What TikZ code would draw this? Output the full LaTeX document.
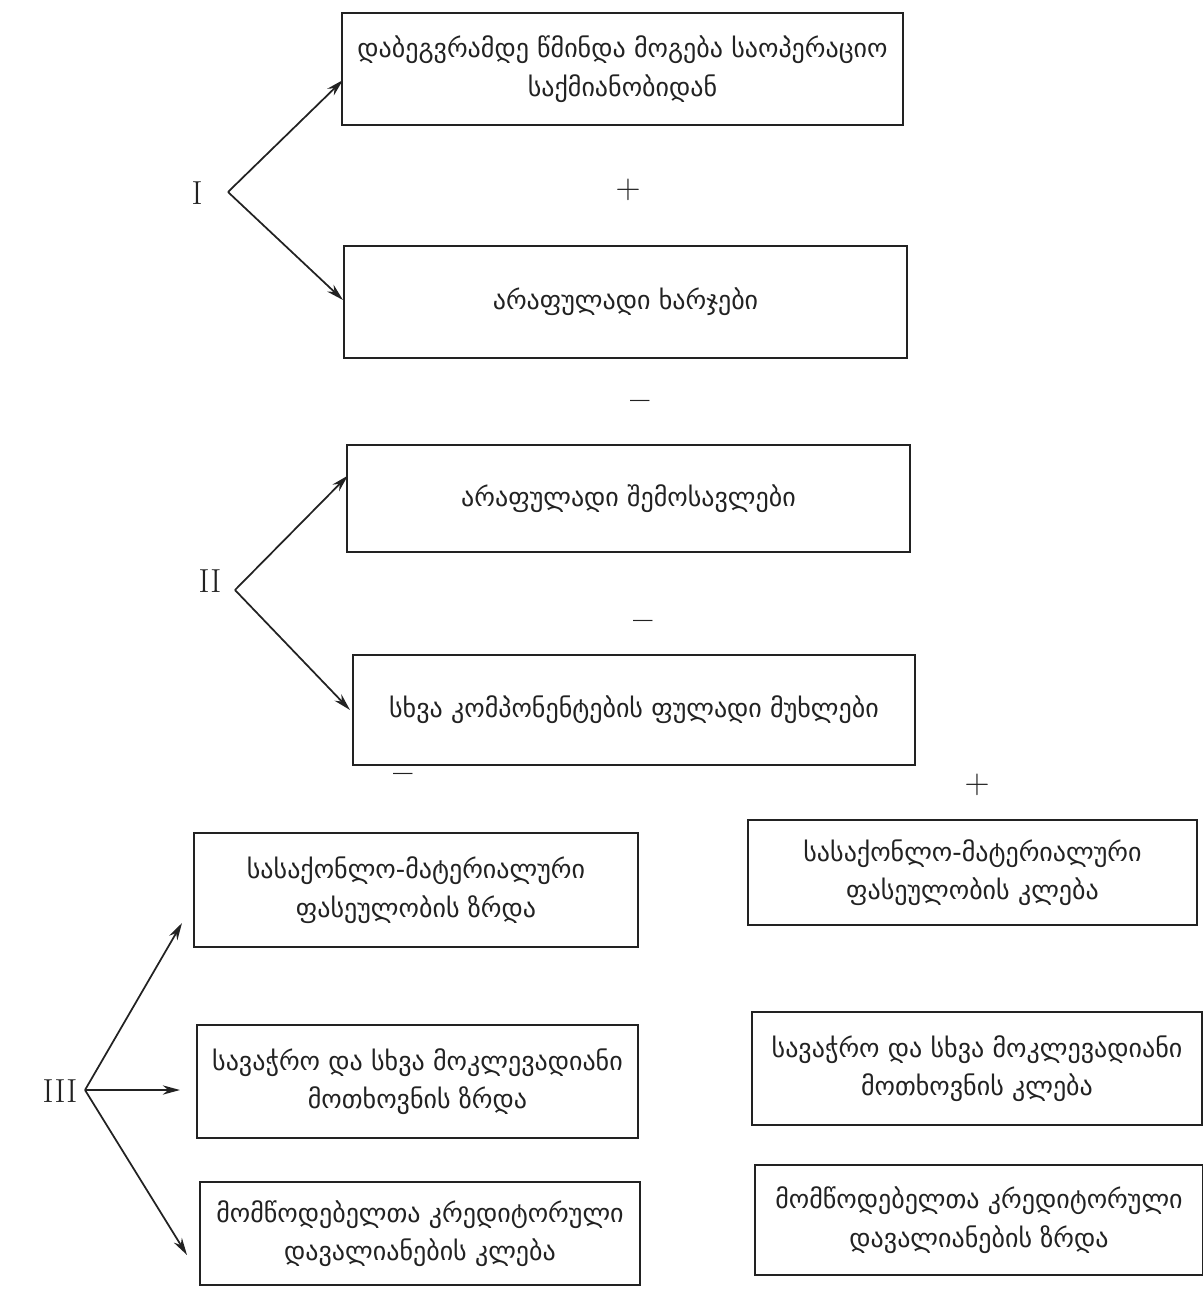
\documentclass[tikz,border=0pt]{standalone}
\usepackage{fontspec}
\newfontfamily\geo{DejaVu Sans}
\usetikzlibrary{arrows.meta,calc}
\definecolor{ink}{HTML}{222222}
\begin{document}
\begin{tikzpicture}[x=0.75pt,y=-0.75pt,
  box/.style={draw=ink,line width=1.5pt,inner sep=0pt,align=center,
    text=ink,font=\geo\fontsize{19.5}{29}\selectfont},
  roman/.style={text=ink,font=\fontsize{25}{27}\selectfont},
  sign/.style={text=ink,font=\fontsize{26}{28}\selectfont},
  arr/.style={draw=ink,line width=1.3pt,-{Stealth[length=13pt,width=7pt]}}]
\useasboundingbox[fill=white] (0,0) rectangle (1203,1290);

% upper column
\node[box,minimum width=420.75pt,minimum height=84pt] (b1) at (622.5,69)
  {დაბეგვრამდე წმინდა მოგება საოპერაციო\\საქმიანობიდან};
\node[box,minimum width=422.25pt,minimum height=84pt] (b2) at (625.5,302)
  {არაფულადი ხარჯები};
\node[box,minimum width=422.25pt,minimum height=80.25pt] (b3) at (628.5,498.5)
  {არაფულადი შემოსავლები};
\node[box,minimum width=421.5pt,minimum height=82.5pt] (b4) at (634,710)
  {სხვა კომპონენტების ფულადი მუხლები};

% lower left column
\node[box,minimum width=333pt,minimum height=85.5pt] (b5) at (416,890)
  {სასაქონლო-მატერიალური\\ფასეულობის ზრდა};
\node[box,minimum width=330.75pt,minimum height=84.75pt] (b7) at (417.5,1081.5)
  {სავაჭრო და სხვა მოკლევადიანი\\მოთხოვნის ზრდა};
\node[box,minimum width=330pt,minimum height=77.25pt] (b9) at (420,1233.5)
  {მომწოდებელთა კრედიტორული\\დავალიანების კლება};

% lower right column
\node[box,minimum width=336.75pt,minimum height=78.75pt] (b6) at (972.5,872.5)
  {სასაქონლო-მატერიალური\\ფასეულობის კლება};
\node[box,minimum width=337.5pt,minimum height=84.75pt] (b8) at (977,1068.5)
  {სავაჭრო და სხვა მოკლევადიანი\\მოთხოვნის კლება};
\node[box,minimum width=336pt,minimum height=82.5pt] (b10) at (979,1220)
  {მომწოდებელთა კრედიტორული\\დავალიანების ზრდა};

% operation signs
\node[sign] (s1) at (628,190) {+};
\node[sign] (s2) at (640,405) {\bfseries --};
\node[sign] (s3) at (643,625) {\bfseries --};
\node[sign] (s4) at (403,778) {\bfseries --};
\node[sign] (s5) at (977,785) {+};

% group labels and branching points
\node[roman] (r1) at (197,193) {I};
\node[roman] (r2) at (210,581) {II};
\node[roman] (r3) at (60,1091) {III};
\coordinate (v1) at (228,192);
\coordinate (v2) at (235,590);
\coordinate (v3) at (85,1090);

\draw[arr] (v1) -- ($(b1.west)+(2,11)$);
\draw[arr] (v1) -- ($(b2.west)+(0,-2)$);
\draw[arr] (v2) -- ($(b3.west)+(2,-23)$);
\draw[arr] (v2) -- ($(b4.west)+(-2,0)$);
\draw[arr] (v3) -- ($(b5.south west)+(-11,-25)$);
\draw[arr] (v3) -- ($(b7.west)+(-16,8.5)$);
\draw[arr] (v3) -- ($(b9.west)+(-12,21.5)$);
\end{tikzpicture}
\end{document}
